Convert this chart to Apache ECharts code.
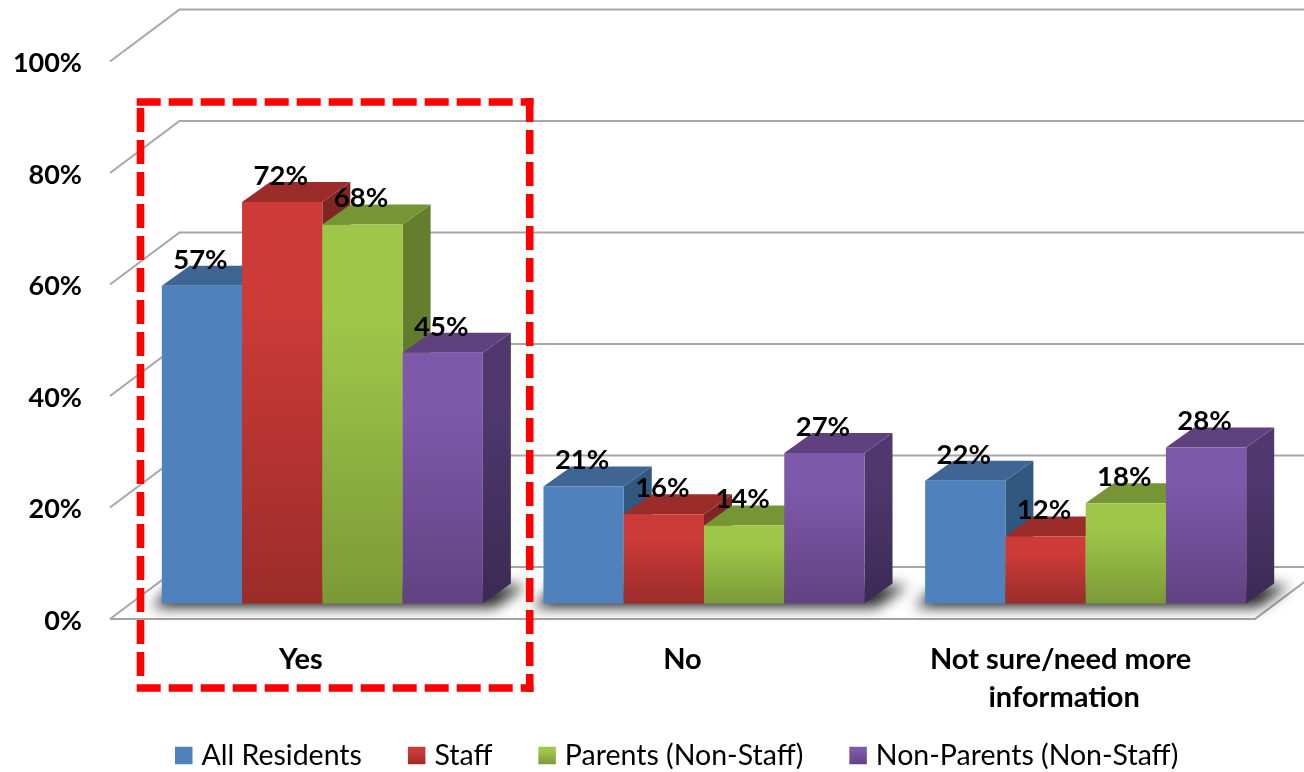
<!DOCTYPE html>
<html><head><meta charset="utf-8">
<style>html,body{margin:0;padding:0;background:#fff}#c{width:1304px;height:772px}</style>
<script src="https://cdn.jsdelivr.net/npm/echarts@6/dist/echarts.min.js"></script>
</head><body><div id="c"></div>
<script>
const categories = ['Yes', 'No', 'Not sure/need more information'];
const allResidents = [57, 21, 22];
const staff = [72, 16, 12];
const parents = [68, 14, 18];
const nonParents = [45, 27, 28];
const yTicks = [0, 20, 40, 60, 80, 100];

const seriesDefs = [
  {name:'All Residents', values:allResidents, front:['#4f81bd','#4f81bd'], top:'#3e6593', side:['#31587f','#2e5279']},
  {name:'Staff', values:staff, front:['#cc3b38','#9b2c2a'], top:'#9b2c2a', side:['#7f2624','#6a1f1e']},
  {name:'Parents (Non-Staff)', values:parents, front:['#9ec749','#7b9a37'], top:'#769535', side:['#647e2e','#556b27']},
  {name:'Non-Parents (Non-Staff)', values:nonParents, front:['#7e58a9','#624282'], top:'#5f4180', side:['#50386f','#3b2a52']}
];
const WALL_DX = 69.5, WALL_DY = 52, LIFT = 15.5, LIFT_DX = 21.5, BAR_DX = 28, BAR_DY = 20, BAR_SHARE = 0.2103;
const LABEL_FONT = 'Lato, "Open Sans", sans-serif';
const grad = c => new echarts.graphic.LinearGradient(0,0,0,1,[{offset:0,color:c[0]},{offset:0.25,color:c[0]},{offset:1,color:c[1]}]);

function barItem(i, def){
  return function(params, api){
    const cat = api.value(0), v = api.value(1);
    const pt = api.coord([cat, v]), base = api.coord([cat, 0]);
    const w = api.size([1,0])[0] * BAR_SHARE;
    const x0 = pt[0] + LIFT_DX - 2*w + i*w, x1 = x0 + w;
    const yt = pt[1] - LIFT, yb = base[1] - LIFT;
    return {type:'group', children:[
      {type:'polygon', z2:i*3+1, shape:{points:[[x1,yt],[x1+BAR_DX,yt-BAR_DY],[x1+BAR_DX,yb-BAR_DY],[x1,yb]]}, style:{fill:grad(def.side)}},
      {type:'polygon', z2:i*3+2, shape:{points:[[x0,yt],[x0+BAR_DX,yt-BAR_DY],[x1+BAR_DX,yt-BAR_DY],[x1,yt]]}, style:{fill:def.top}},
      {type:'rect', z2:i*3+3, shape:{x:x0,y:yt,width:w,height:yb-yt}, style:{fill:grad(def.front)}},
      {type:'text', z2:100, style:{text:v+'%', x:(x0+x1)/2-1.5, y:yt-26, align:'center', verticalAlign:'middle', fill:'#000', font:'bold 27.5px '+LABEL_FONT}}
    ]};
  };
}
function wallItem(params, api){
  const v = api.value(0), cs = params.coordSys, y = api.coord([0, v])[1];
  const xl = cs.x, yb = y - WALL_DY, xb = xl + WALL_DX;
  const line = {stroke:'#a6a6a6', lineWidth:2, fill:null};
  const kids = [{type:'polyline', shape:{points:[[xl,y],[xb,yb],[1310,yb]]}, style:line}];
  if (v === 0) kids.push({type:'polyline', shape:{points:[[xl,y],[cs.x+cs.width,y],[cs.x+cs.width+WALL_DX,yb]]}, style:line});
  return {type:'group', children:kids};
}
const SHADOW_SHIFT = 3000;
function shadowItem(params, api){
  const base = api.coord([api.value(0), 0]);
  const w = api.size([1,0])[0] * BAR_SHARE;
  const x0 = base[0] + LIFT_DX - 2*w, x1 = x0 + 4*w, yb = base[1] - LIFT;
  const pts = [[x0-10,yb+4],[x1+12,yb+4],[x1+BAR_DX+15,yb-BAR_DY+2],[x0+BAR_DX-16,yb-BAR_DY+2]].map(p=>[p[0]-SHADOW_SHIFT,p[1]]);
  return {type:'polygon', shape:{points:pts},
    style:{fill:'#444', shadowBlur:14, shadowColor:'rgba(40,40,40,1)', shadowOffsetX:SHADOW_SHIFT}};
}

const series = [
  {type:'custom', name:'walls', z:1, silent:true, clip:false, coordinateSystem:'cartesian2d', data:yTicks.map(v=>[v]), encode:{y:0}, renderItem:wallItem},
  {type:'custom', name:'floor shadow', z:2, silent:true, clip:false, coordinateSystem:'cartesian2d', data:categories.map((c,i)=>[i,0]), encode:{x:0,y:1}, renderItem:shadowItem}
];
seriesDefs.forEach((d,i)=>series.push({
  type:'custom', name:d.name, z:3, clip:false, coordinateSystem:'cartesian2d',
  itemStyle:{color:grad(d.front)},
  data:d.values.map((v,k)=>[k,v]), encode:{x:0,y:1}, renderItem:barItem(i,d)
}));

const dash = {stroke:'#ff0000', lineWidth:7.6, lineDash:[24,8], fill:null};
const side = (x1,y1,x2,y2)=>({type:'line', z:50, silent:true, shape:{x1,y1,x2,y2}, style:dash});

const chart = echarts.init(document.getElementById('c'), null, {renderer:'canvas'});
chart.setOption({
  animation:false,
  backgroundColor:'#fff',
  grid:{left:110, width:1145, top:61.5, height:557.5, containLabel:false},
  xAxis:{type:'category', data:categories, axisLine:{show:false}, axisTick:{show:false}, splitLine:{show:false},
    axisLabel:{interval:0, margin:22, lineHeight:38, width:320, overflow:'break', color:'#000', fontFamily:LABEL_FONT, fontWeight:'bold', fontSize:29}},
  yAxis:{type:'value', min:0, max:100, interval:20, axisLine:{show:false}, axisTick:{show:false}, splitLine:{show:false},
    axisLabel:{formatter:'{a|{value}%}', margin:28, rich:{a:{padding:[4,0,0,0], color:'#000', fontFamily:LABEL_FONT, fontWeight:'bold', fontSize:27}}}},
  legend:{left:175, top:741, padding:0, itemWidth:17.5, itemHeight:17.5, itemGap:46, icon:'rect', selectedMode:false,
    data:seriesDefs.map(d=>d.name),
    textStyle:{color:'#000', fontFamily:LABEL_FONT, fontSize:28.5, padding:[0,0,0,4]}},
  graphic:[side(136.7,102,533.5,102), side(529.7,98,529.7,692), side(140.5,108,140.5,684), side(136.7,688,533.5,688)],
  series
});
</script></body></html>
